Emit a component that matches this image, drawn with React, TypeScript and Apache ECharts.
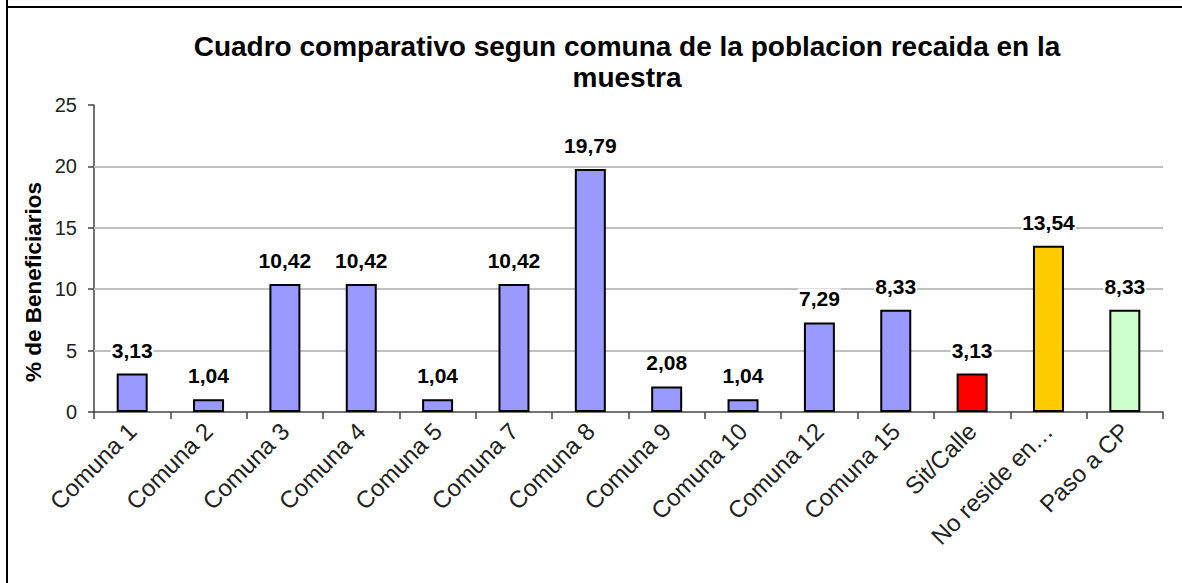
import React, { useEffect, useRef } from "react";
import * as echarts from "echarts";

const categories = [
  "Comuna 1", "Comuna 2", "Comuna 3", "Comuna 4", "Comuna 5", "Comuna 7", "Comuna 8",
  "Comuna 9", "Comuna 10", "Comuna 12", "Comuna 15", "Sit/Calle", "No reside en…", "Paso a CP",
];
const values = [3.13, 1.04, 10.42, 10.42, 1.04, 10.42, 19.79, 2.08, 1.04, 7.29, 8.33, 3.13, 13.54, 8.33];
const barColors = [
  "#9999ff", "#9999ff", "#9999ff", "#9999ff", "#9999ff", "#9999ff", "#9999ff",
  "#9999ff", "#9999ff", "#9999ff", "#9999ff", "#ff0000", "#ffcc00", "#ccffcc",
];
const yTicks = [0, 5, 10, 15, 20, 25];
const gridValues = [5, 10, 15, 20];
const titleLines = ["Cuadro comparativo segun comuna de la poblacion recaida en la", "muestra"];
const yAxisTitle = "% de Beneficiarios";

const FONT = "'Liberation Sans', Arial, sans-serif";

export default function App() {
  const ref = useRef<HTMLDivElement>(null);
  useEffect(() => {
    if (!ref.current) return;
    const chart = echarts.init(ref.current, null, { renderer: "svg" });
    chart.setOption({
      animation: false,
      backgroundColor: "#ffffff",
      textStyle: { fontFamily: FONT },
      graphic: [
        { type: "line", shape: { x1: 7, y1: 0, x2: 7, y2: 600 }, style: { stroke: "#000", lineWidth: 2 } },
        { type: "line", shape: { x1: 6, y1: 7, x2: 1200, y2: 7 }, style: { stroke: "#000", lineWidth: 2 } },
        {
          type: "text",
          x: 627,
          y: 31,
          style: {
            text: titleLines.join("\n"),
            font: `bold 28px ${FONT}`,
            lineHeight: 31,
            textAlign: "center",
            fill: "#000",
          },
        },
        {
          type: "text",
          x: 33,
          y: 282,
          rotation: Math.PI / 2,
          style: {
            text: yAxisTitle,
            font: `bold 22.5px ${FONT}`,
            textAlign: "center",
            textVerticalAlign: "middle",
            fill: "#000",
          },
        },
      ],
      grid: { left: 94, right: 19, top: 105, bottom: 171, containLabel: false },
      xAxis: {
        type: "category",
        data: categories,
        axisLine: { lineStyle: { color: "#444", width: 1.5 } },
        axisTick: { show: true, length: 7, lineStyle: { color: "#444", width: 1.5 } },
        axisLabel: { rotate: 45, fontSize: 24, color: "#222", margin: 15, interval: 0, fontFamily: FONT },
      },
      yAxis: {
        type: "value",
        min: 0,
        max: 25,
        interval: 5,
        axisLine: { show: true, lineStyle: { color: "#444", width: 1.5 } },
        axisTick: { show: true, length: 6, lineStyle: { color: "#444", width: 1.5 } },
        axisLabel: {
          fontSize: 20,
          color: "#222",
          margin: 17,
          fontFamily: FONT,
          formatter: (v: number) => (yTicks.includes(v) ? String(v) : ""),
        },
        splitLine: { show: false },
      },
      series: [
        {
          type: "line",
          data: [],
          z: 1,
          silent: true,
          markLine: {
            z: 1,
            silent: true,
            symbol: "none",
            label: { show: false },
            lineStyle: { color: "#c0c0c0", width: 2, type: "solid" },
            data: gridValues.map((v) => ({ yAxis: v })),
          },
        },
        {
          type: "bar",
          z: 3,
          data: values.map((v, i) => ({ value: v, itemStyle: { color: barColors[i] } })),
          barWidth: 31,
          itemStyle: { borderColor: "#000", borderWidth: 2 },
          label: {
            show: true,
            position: "top",
            distance: 13,
            fontSize: 21,
            fontWeight: "bold",
            color: "#000",
            fontFamily: FONT,
            backgroundColor: "#ffffff",
            padding: [0, 1],
            formatter: (p: any) => String(p.value).replace(".", ","),
          },
        },
      ],
    });
    return () => chart.dispose();
  }, []);
  return (
    <div
      ref={ref}
      style={{ position: "fixed", left: 0, top: 0, width: 1182, height: 583 }}
    />
  );
}
